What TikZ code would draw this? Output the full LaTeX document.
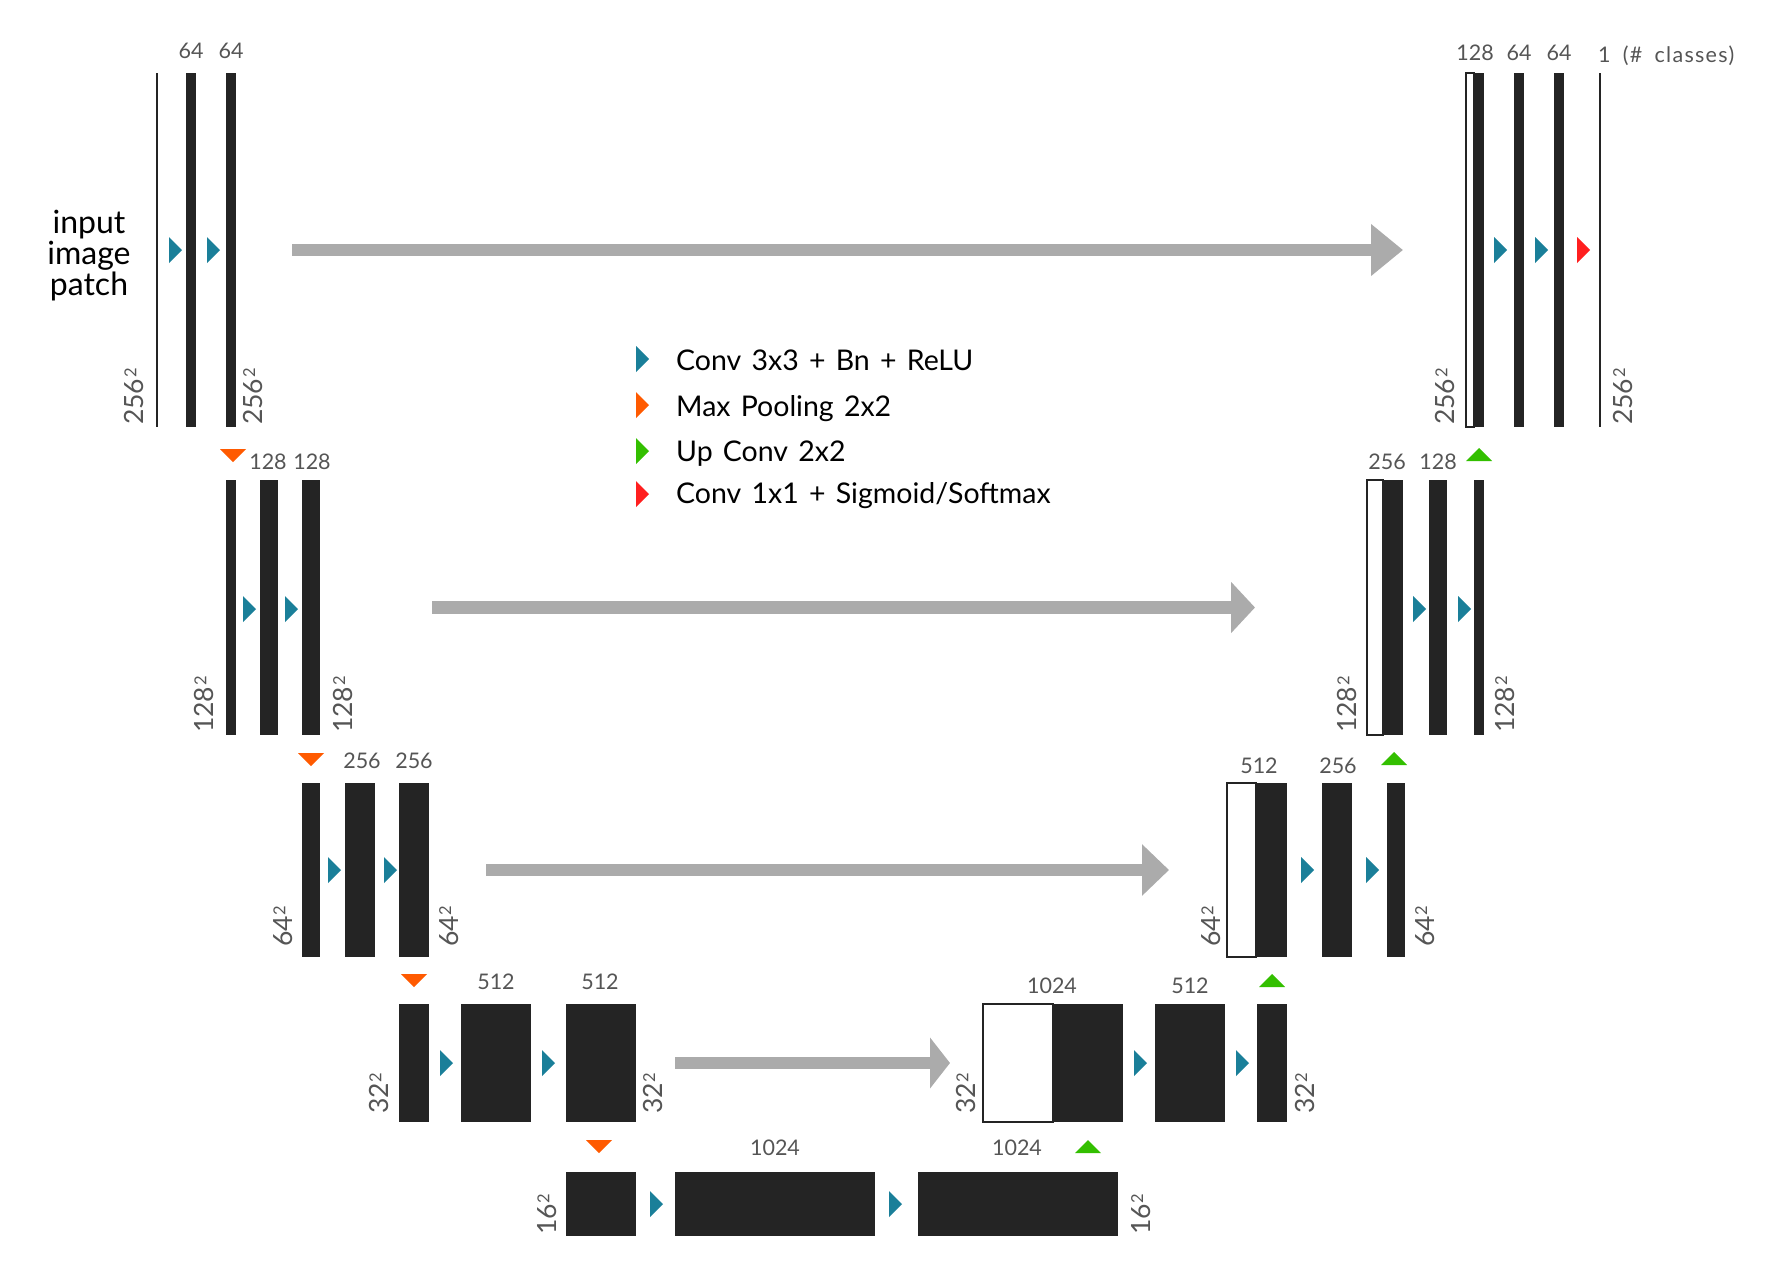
\documentclass[tikz,border=0pt]{standalone}
\usepackage{fontspec}
\setmainfont{Lato}[WordSpace=1.4]
\newfontfamily\spacedfont{Lato}[LetterSpace=6, WordSpace=1.8]
\usetikzlibrary{arrows.meta}
\definecolor{fmapgray}{HTML}{242424}
\definecolor{skipgray}{HTML}{ABABAB}
\definecolor{labelgray}{HTML}{555555}
\definecolor{convteal}{HTML}{1A7F99}
\definecolor{poolorange}{HTML}{FF5A00}
\definecolor{upgreen}{HTML}{33BF00}
\definecolor{outred}{HTML}{FF1F1F}
\newcommand{\convTri}[3][convteal]{\fill[#1] (#2,#3) ++(0,-13) -- ++(13,13) -- ++(-13,13) -- cycle;}
\newcommand{\poolTri}[2]{\fill[poolorange] (#1,#2) ++(-13,0) -- ++(26,0) -- ++(-13,13) -- cycle;}
\newcommand{\upTri}[2]{\fill[upgreen] (#1,#2) ++(-13,13) -- ++(26,0) -- ++(-13,-13) -- cycle;}
\newcommand{\sq}[1]{#1\kern1pt\raisebox{7.2pt}{\fontsize{16.5}{17}\selectfont 2}}

\begin{document}
\begin{tikzpicture}[x=1pt, y=-1pt]
  \tikzset{fmap/.style={fill=fmapgray, inner sep=0, outer sep=0, anchor=north west},
    copied/.style={fmap, fill=white, draw=fmapgray, line width=1.5pt},
    chan/.style={font=\fontsize{21.5}{26}\selectfont, text=labelgray, inner sep=0},
    dimL/.style={chan, font=\fontsize{26.5}{28}\selectfont, rotate=90, anchor=south west},
    dimR/.style={chan, font=\fontsize{26.5}{28}\selectfont, rotate=90, anchor=north west},
    legend/.style={font=\fontsize{28.5}{30}\selectfont, inner sep=0, anchor=base west},
    skip/.style={draw=skipgray, line width=12.5pt, -{Triangle[length=#1, width=50pt]}}}
  \useasboundingbox (0,0) rectangle (1778,1267);
  % level 1
  \node[fmap, minimum width=2, minimum height=354] (in1) at (156,73) {};
  \node[fmap, minimum width=10, minimum height=354] (e11) at (186,73) {};
  \node[fmap, minimum width=10, minimum height=354] (e12) at (226,73) {};
  \node[copied, minimum width=8, minimum height=354] (c11) at (1466,73) {};
  \node[fmap, minimum width=10, minimum height=354] (d11) at (1474,73) {};
  \node[fmap, minimum width=10, minimum height=354] (d12) at (1514,73) {};
  \node[fmap, minimum width=10, minimum height=354] (d13) at (1554,73) {};
  \node[fmap, minimum width=2, minimum height=354] (out1) at (1599,73) {};
  % level 2
  \node[fmap, minimum width=10, minimum height=255] (e21) at (226,480) {};
  \node[fmap, minimum width=18, minimum height=255] (e22) at (260,480) {};
  \node[fmap, minimum width=18, minimum height=255] (e23) at (302,480) {};
  \node[copied, minimum width=16, minimum height=255] (c21) at (1367,480) {};
  \node[fmap, minimum width=20, minimum height=255] (d21) at (1383,480) {};
  \node[fmap, minimum width=18, minimum height=255] (d22) at (1429,480) {};
  \node[fmap, minimum width=10, minimum height=255] (d23) at (1474,480) {};
  % level 3
  \node[fmap, minimum width=18, minimum height=174] (e31) at (302,783) {};
  \node[fmap, minimum width=30, minimum height=174] (e32) at (345,783) {};
  \node[fmap, minimum width=30, minimum height=174] (e33) at (399,783) {};
  \node[copied, minimum width=29, minimum height=174] (c31) at (1227,783) {};
  \node[fmap, minimum width=31, minimum height=174] (d31) at (1256,783) {};
  \node[fmap, minimum width=30, minimum height=174] (d32) at (1322,783) {};
  \node[fmap, minimum width=18, minimum height=174] (d33) at (1387,783) {};
  % level 4
  \node[fmap, minimum width=30, minimum height=118] (e41) at (399,1004) {};
  \node[fmap, minimum width=70, minimum height=118] (e42) at (461,1004) {};
  \node[fmap, minimum width=70, minimum height=118] (e43) at (566,1004) {};
  \node[copied, minimum width=70, minimum height=118] (c41) at (983,1004) {};
  \node[fmap, minimum width=70, minimum height=118] (d41) at (1053,1004) {};
  \node[fmap, minimum width=70, minimum height=118] (d42) at (1155,1004) {};
  \node[fmap, minimum width=30, minimum height=118] (d43) at (1257,1004) {};
  % level 5
  \node[fmap, minimum width=70, minimum height=64] (b1) at (566,1172) {};
  \node[fmap, minimum width=200, minimum height=64] (b2) at (675,1172) {};
  \node[fmap, minimum width=200, minimum height=64] (b3) at (918,1172) {};

  % channels
  \node[chan] (n11) at (191,51) {64};
  \node[chan] (n12) at (231,51) {64};
  \node[chan] (m11) at (1475,53) {128};
  \node[chan] (m12) at (1519,53) {64};
  \node[chan] (m13) at (1559,53) {64};
  \node[chan, font=\fontsize{21.5}{26}\spacedfont, anchor=base west] (m14) at (1598,62) {1 (\# classes)};
  \node[chan] (n22) at (268,462) {128};
  \node[chan] (n23) at (312,462) {128};
  \node[chan] (m21) at (1387,462) {256};
  \node[chan] (m22) at (1438,462) {128};
  \node[chan] (n32) at (362,761) {256};
  \node[chan] (n33) at (414,761) {256};
  \node[chan] (m31) at (1259,766) {512};
  \node[chan] (m32) at (1338,766) {256};
  \node[chan] (n42) at (496,982) {512};
  \node[chan] (n43) at (600,982) {512};
  \node[chan] (m41) at (1052,986) {1024};
  \node[chan] (m42) at (1190,986) {512};
  \node[chan] (k2) at (775,1148) {1024};
  \node[chan] (k3) at (1017,1148) {1024};

  % image sizes
  \node[dimL] (s11) at (144,425) {\sq{256}};
  \node[dimR] (s12) at (243,425) {\sq{256}};
  \node[dimL] (t11) at (1455,425) {\sq{256}};
  \node[dimR] (t12) at (1613,425) {\sq{256}};
  \node[dimL] (s21) at (214,733) {\sq{128}};
  \node[dimR] (s22) at (333,733) {\sq{128}};
  \node[dimL] (t21) at (1357,733) {\sq{128}};
  \node[dimR] (t22) at (1495,733) {\sq{128}};
  \node[dimL] (s31) at (293,947) {\sq{64}};
  \node[dimR] (s32) at (439,947) {\sq{64}};
  \node[dimL] (t31) at (1221,947) {\sq{64}};
  \node[dimR] (t32) at (1415,947) {\sq{64}};
  \node[dimL] (s41) at (389,1114) {\sq{32}};
  \node[dimR] (s42) at (643,1114) {\sq{32}};
  \node[dimL] (t41) at (976,1114) {\sq{32}};
  \node[dimR] (t42) at (1295,1114) {\sq{32}};
  \node[dimL] (s51) at (557,1235) {\sq{16}};
  \node[dimR] (s52) at (1131,1235) {\sq{16}};

  \node[font=\fontsize{32}{31}\selectfont, align=center] (inp) at (89,256) {input\\image\\patch};

  % operations
  \convTri{169}{250} \convTri{207}{250} \convTri{1494}{250} \convTri{1535}{250}
  \convTri[outred]{1577}{250}
  \convTri{243}{609} \convTri{285}{609} \convTri{1413}{609} \convTri{1458}{609}
  \convTri{328}{870} \convTri{384}{870} \convTri{1301}{870} \convTri{1366}{870}
  \convTri{440}{1063} \convTri{542}{1063} \convTri{1134}{1063} \convTri{1236}{1063}
  \convTri{650}{1204} \convTri{889}{1204}
  \poolTri{233}{449} \poolTri{311}{753} \poolTri{414}{974} \poolTri{599}{1140}
  \upTri{1479}{448} \upTri{1394}{752} \upTri{1272}{974} \upTri{1088}{1140}

  % skip connections
  \draw[skip=32pt] ([xshift=56]e12.east) -- ([xshift=-63]c11.west);
  \draw[skip=24pt] ([xshift=112]e23.east) -- ([xshift=-112]c21.west);
  \draw[skip=27pt] ([xshift=57]e33.east) -- ([xshift=-58]c31.west);
  \draw[skip=20pt] ([xshift=39]e43.east) -- ([xshift=-33]c41.west);

  % legend
  \convTri{636}{359} \convTri[poolorange]{636}{405}
  \convTri[upgreen]{636}{451} \convTri[outred]{636}{494}
  \node[legend] (g1) at (676,370) {Conv 3x3 + Bn + ReLU};
  \node[legend] (g2) at (676,416.5) {Max Pooling 2x2};
  \node[legend] (g3) at (676,461) {Up Conv 2x2};
  \node[legend] (g4) at (676,503.5) {Conv 1x1 + Sigmoid/Softmax};
\end{tikzpicture}
\end{document}
